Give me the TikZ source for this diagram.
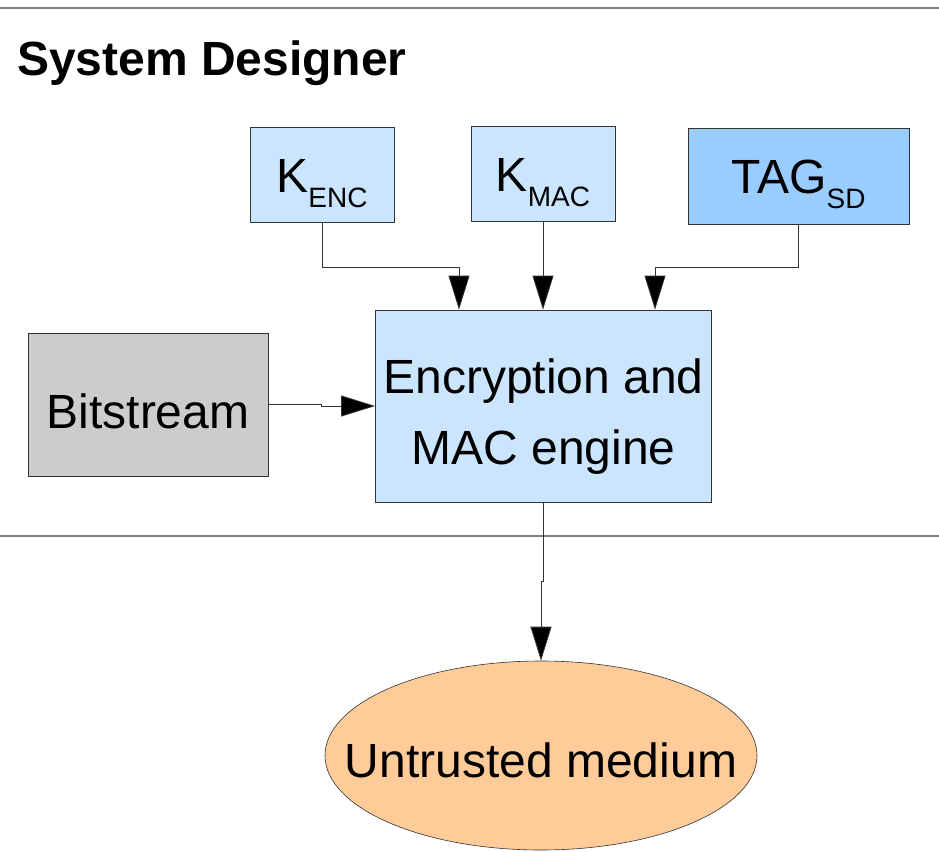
\documentclass[tikz,border=0pt]{standalone}
\usepackage{fontspec}
\setmainfont{Liberation Sans}
\usetikzlibrary{arrows.meta,shapes.geometric,calc}

\definecolor{keyblue}{HTML}{CCE5FF}
\definecolor{tagblue}{HTML}{99CCFF}
\definecolor{streamgray}{HTML}{CCCCCC}
\definecolor{mediumorange}{HTML}{FFCC99}
\definecolor{framegray}{HTML}{333333}
\definecolor{rulegray}{HTML}{7F7F7F}

\newcommand{\bigtext}{\fontsize{48}{71}\selectfont}
\newcommand{\subtext}[1]{\raisebox{-15pt}{\fontsize{28}{28}\selectfont #1}}

\tikzset{
  block/.style={draw=framegray, line width=0.8pt, rectangle, inner sep=0pt,
                font=\bigtext, text=black},
  keybox/.style={block, fill=keyblue, minimum width=144pt, minimum height=95pt,
                 text height=35pt, text depth=0pt},
  conn/.style={draw=framegray, line width=0.8pt,
               -{Triangle[length=34pt,width=21pt,fill=black]}},
  divider/.style={draw=rulegray, line width=1.3pt},
}

\begin{document}
\begin{tikzpicture}[x=1pt, y=-1pt]
  % page area and white background
  \useasboundingbox (0,0) rectangle (939,851);
  \fill[white] (0,0) rectangle (939,851);

  % horizontal dividers of the trusted zone
  \draw[divider] (0,8) -- (939,8);
  \draw[divider] (0,536) -- (939,536);

  % zone title
  \node[anchor=base west, inner sep=0pt, font=\bigtext\bfseries] (title)
    at (17,75) {System Designer};

  % key and tag inputs
  \node[keybox] (kenc) at (322,174.5) {K\subtext{ENC}};
  \node[keybox] (kmac) at (543,173.5) {K\subtext{MAC}};
  \node[keybox, fill=tagblue, minimum width=221pt, minimum height=96pt]
    (tag) at (798.5,176) {TAG\subtext{SD}};

  % bitstream source
  \node[block, fill=streamgray, minimum width=240pt, minimum height=143pt,
        text height=47pt, text depth=0pt] (bits) at (148,404.5) {Bitstream};

  % encryption and MAC engine
  \node[block, fill=keyblue, minimum width=336pt, minimum height=192pt,
        align=center] (engine) at (543.5,406)
    {\rule{0pt}{55pt}Encryption and\\MAC engine};

  % untrusted medium
  \node[ellipse, draw=framegray, line width=0.6pt, fill=mediumorange,
        minimum width=432pt, minimum height=189pt, inner sep=0pt]
    (medium) at (541,755.5) {};
  \node[anchor=base, inner sep=0pt, font=\bigtext] (mediumtext)
    at ([yshift=-21.5pt]medium.center) {Untrusted medium};

  % connectors
  \draw[conn] (kenc.south) -- ++(0,45) -| ([xshift=-84.5pt]engine.north);
  \draw[conn] (kmac.south) -- (kmac.south |- engine.north);
  \draw[conn] (tag.south) -- ++(0,43) -| ([xshift=111.5pt]engine.north);
  \draw[conn] (bits.east) -- ++(53,0) |- (engine.west);
  \draw[conn] (engine.south) -- ++(0,79) -| (medium.north);
\end{tikzpicture}
\end{document}
